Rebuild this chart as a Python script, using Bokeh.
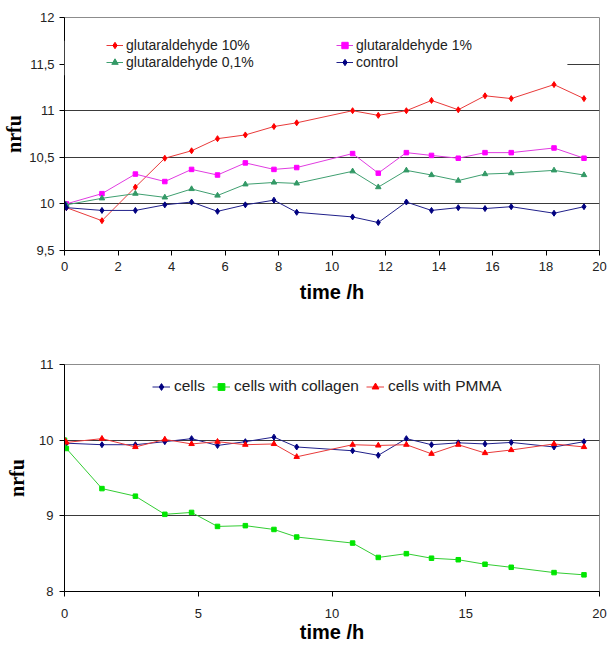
from bokeh.plotting import figure
from bokeh.models import Legend, LegendItem, FixedTicker, BoxAnnotation, Range1d
from bokeh.layouts import column
from bokeh.embed import file_html
from bokeh.resources import INLINE

# ---------------- data ----------------
time_h = [0, 0.07, 1.4, 2.65, 3.75, 4.75, 5.72, 6.76, 7.83, 8.68,
          10.77, 11.73, 12.78, 13.72, 14.72, 15.72, 16.7, 18.3, 19.42]

glut_10 = [10.0, 9.96, 9.82, 10.18, 10.49, 10.57, 10.70, 10.74, 10.83, 10.87,
           11.00, 10.95, 11.00, 11.11, 11.01, 11.16, 11.13, 11.28, 11.13]
glut_1 = [10.0, 10.0, 10.11, 10.32, 10.24, 10.37, 10.31, 10.44, 10.37, 10.39,
          10.54, 10.33, 10.55, 10.52, 10.49, 10.55, 10.55, 10.60, 10.49]
glut_01 = [10.0, 9.99, 10.06, 10.11, 10.07, 10.16, 10.09, 10.21, 10.23, 10.22,
           10.35, 10.18, 10.36, 10.31, 10.25, 10.32, 10.33, 10.36, 10.31]
control = [10.0, 9.96, 9.93, 9.93, 9.99, 10.02, 9.92, 9.99, 10.04, 9.91,
           9.86, 9.80, 10.02, 9.93, 9.96, 9.95, 9.97, 9.90, 9.97]

cells = [10.0, 9.96, 9.94, 9.94, 9.98, 10.02, 9.93, 9.98, 10.04, 9.91,
         9.86, 9.80, 10.02, 9.94, 9.965, 9.95, 9.97, 9.91, 9.98]
collagen = [10.0, 9.89, 9.36, 9.26, 9.02, 9.045, 8.86, 8.87, 8.82, 8.72,
            8.64, 8.45, 8.50, 8.44, 8.42, 8.36, 8.32, 8.25, 8.22]
pmma = [10.0, 9.97, 10.02, 9.91, 10.01, 9.95, 9.98, 9.94, 9.95, 9.78,
        9.94, 9.93, 9.94, 9.82, 9.94, 9.83, 9.87, 9.95, 9.91]

top_x_ticks = [0, 2, 4, 6, 8, 10, 12, 14, 16, 18, 20]
top_y_ticks = [9.5, 10, 10.5, 11, 11.5, 12]
top_y_labels = ["9,5", "10", "10,5", "11", "11,5", "12"]
top_grid = [10, 10.5, 11, 11.5]

bot_x_ticks = [0, 5, 10, 15, 20]
bot_y_ticks = [8, 9, 10, 11]
bot_y_labels = ["8", "9", "10", "11"]
bot_grid = [9, 10]

x_title = "time /h"
y_title = "nrfu"

FONT = "Liberation Sans"


def style(p, xticks, yticks, ylabels, grid, tick_standoff, title_standoff,
          ylab_standoff, ytitle_standoff):
    p.outline_line_color = "#8c8c8c"
    p.outline_line_width = 1
    p.xgrid.visible = False
    p.ygrid.ticker = FixedTicker(ticks=grid)
    p.ygrid.grid_line_color = "#3a3a3a"
    p.ygrid.grid_line_width = 1
    for ax in (p.xaxis[0], p.yaxis[0]):
        ax.axis_line_color = "#000000"
        ax.major_tick_line_color = "#000000"
        ax.major_tick_out = 5
        ax.major_tick_in = 0
        ax.minor_tick_line_color = None
        ax.major_label_text_font = FONT
        ax.major_label_text_font_size = "13px"
        ax.major_label_text_color = "#222222"
    p.xaxis.ticker = FixedTicker(ticks=xticks)
    p.yaxis.ticker = FixedTicker(ticks=yticks)
    p.yaxis.major_label_overrides = {t: l for t, l in zip(yticks, ylabels)}
    p.yaxis.major_label_standoff = ylab_standoff
    p.xaxis.major_label_standoff = tick_standoff
    p.xaxis.axis_label = x_title
    p.xaxis.axis_label_text_font = FONT
    p.xaxis.axis_label_text_font_style = "bold"
    p.xaxis.axis_label_text_font_size = "20px"
    p.xaxis.axis_label_text_color = "#000000"
    p.xaxis.axis_label_standoff = title_standoff
    p.yaxis.axis_label = y_title
    p.yaxis.axis_label_text_font = "Liberation Serif"
    p.yaxis.axis_label_text_font_style = "bold"
    p.yaxis.axis_label_text_font_size = "20px"
    p.yaxis.axis_label_text_color = "#000000"
    p.yaxis.axis_label_standoff = ytitle_standoff


def series(p, y, color, line_color, marker, size):
    l = p.line(time_h, y, line_color=line_color, line_width=1)
    m = p.scatter(time_h, y, marker=marker, size=size, fill_color=color,
                  line_color=color)
    return [l, m]


# ---------------- top chart ----------------
p1 = figure(width=610, height=305, x_range=Range1d(0, 20), y_range=Range1d(9.5, 12),
            output_backend="svg", toolbar_location=None,
            min_border_left=64, min_border_right=8, min_border_top=17, min_border_bottom=55)
style(p1, top_x_ticks, top_y_ticks, top_y_labels, top_grid, 6, 7, 5, 1)

r10 = series(p1, glut_10, "#ff0000", "#e83a3a", "diamond", 6)
r1 = series(p1, glut_1, "#ff00ff", "#e03ce0", "square", 4.5)
r01 = series(p1, glut_01, "#339966", "#3f9f70", "triangle", 5.5)
rc = series(p1, control, "#000080", "#20208a", "diamond", 6)

legend_box = BoxAnnotation(left=0, right=18.8, bottom=11.38, top=11.75,
                           fill_color="white", fill_alpha=1, line_color=None)
p1.add_layout(legend_box)

common_leg = dict(border_line_color=None, background_fill_alpha=0,
                  label_text_font=FONT, label_text_font_size="14px",
                  label_text_color="#222222", glyph_width=17, glyph_height=16,
                  label_height=16, label_standoff=3, spacing=1, padding=2, margin=0)
leg_a = Legend(items=[LegendItem(label="glutaraldehyde 10%", renderers=r10),
                      LegendItem(label="glutaraldehyde 0,1%", renderers=r01)],
               location=(42, 180), **common_leg)
leg_b = Legend(items=[LegendItem(label="glutaraldehyde 1%", renderers=r1),
                      LegendItem(label="control", renderers=rc)],
               location=(272, 180), **common_leg)
p1.add_layout(leg_a)
p1.add_layout(leg_b)

# ---------------- bottom chart ----------------
p2 = figure(width=610, height=340, x_range=Range1d(0, 20), y_range=Range1d(8, 11),
            output_backend="svg", toolbar_location=None,
            min_border_left=61, min_border_right=11, min_border_top=59, min_border_bottom=54)
style(p2, bot_x_ticks, bot_y_ticks, bot_y_labels, bot_grid, 12, 0, 6, 8)

rb_cells = series(p2, cells, "#000080", "#20208a", "diamond", 6)
rb_coll = series(p2, collagen, "#00e600", "#33cc33", "square", 4.5)
rb_pmma = series(p2, pmma, "#ff0000", "#e83a3a", "triangle", 5.5)

leg_c = Legend(items=[LegendItem(label="cells", renderers=rb_cells),
                      LegendItem(label="cells with collagen", renderers=rb_coll),
                      LegendItem(label="cells with PMMA", renderers=rb_pmma)],
               orientation="horizontal", location=(88, 196),
               border_line_color=None, background_fill_color="white",
               label_text_font=FONT, label_text_font_size="15.5px",
               label_text_color="#222222", glyph_width=18, glyph_height=17,
               label_height=17, label_standoff=4, spacing=7, padding=3, margin=0)
p2.add_layout(leg_c)

layout = column(p1, p2, spacing=0)
open("out.html", "w").write(file_html(layout, INLINE))
